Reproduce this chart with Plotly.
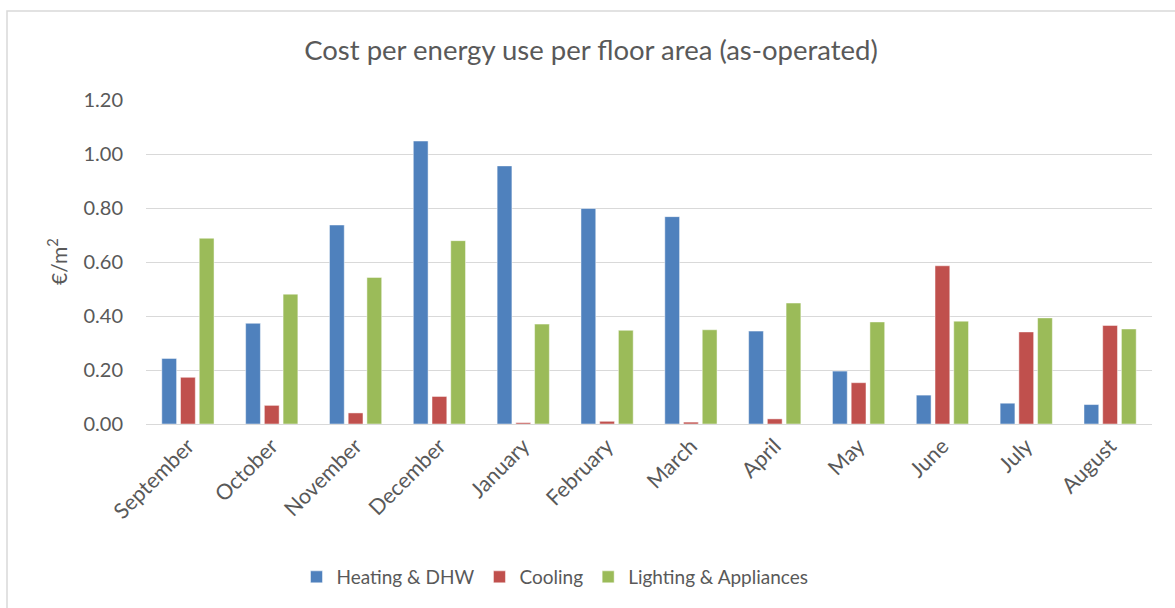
import plotly.graph_objects as go

months = ["September", "October", "November", "December", "January", "February",
          "March", "April", "May", "June", "July", "August"]
heating = [0.243, 0.373, 0.737, 1.048, 0.956, 0.798, 0.768, 0.344, 0.196, 0.107, 0.077, 0.072]
cooling = [0.173, 0.069, 0.041, 0.102, 0.005, 0.010, 0.007, 0.019, 0.153, 0.586, 0.341, 0.365]
lighting = [0.688, 0.481, 0.543, 0.679, 0.370, 0.347, 0.349, 0.448, 0.378, 0.381, 0.393, 0.352]
y_ticks = [0.0, 0.2, 0.4, 0.6, 0.8, 1.0, 1.2]

series = [
    ("Heating & DHW", heating, "#4F81BD"),
    ("Cooling", cooling, "#C0504D"),
    ("Lighting & Appliances", lighting, "#9BBB59"),
]

FONT = "Lato, 'Open Sans', sans-serif"
TXT = "#595959"

fig = go.Figure()
for name, vals, col in series:
    fig.add_trace(go.Bar(
        x=months, y=vals, name=name,
        marker=dict(color=col, line=dict(color="rgba(255,255,255,0.6)", width=0.8)),
    ))

L, R, T, B = 146, 23, 100, 184
W, H = 1175, 608
pw, ph = W - L - R, H - T - B

fig.update_layout(
    width=W, height=H,
    margin=dict(l=L, r=R, t=T, b=B, pad=0),
    paper_bgcolor="white", plot_bgcolor="white",
    barmode="group", bargap=0.33, bargroupgap=0.21,
    font=dict(family=FONT, color=TXT, size=19),
    title=dict(text="Cost per energy use per floor area (as-operated)",
               x=591 / W, xanchor="center", y=1 - 50 / H, yanchor="middle",
               font=dict(size=27.5, color=TXT, family=FONT)),
    legend=dict(orientation="h", x=(555 - L) / pw, xanchor="center",
                y=(H - B - 577) / ph, yanchor="middle",
                font=dict(size=19, color=TXT, family=FONT),
                itemwidth=30, traceorder="normal"),
    xaxis=dict(tickangle=-45, showgrid=False, showline=True, linecolor="#d9d9d9",
               linewidth=1, ticks="", tickfont=dict(size=21.5, color=TXT)),
    yaxis=dict(range=[0, 1.2], tickvals=y_ticks, tickformat=".2f",
               showgrid=True, gridcolor="#d9d9d9", gridwidth=1,
               zeroline=False, showline=False, ticks="",
               ticklabelstandoff=22, tickfont=dict(size=20, color=TXT)),
    annotations=[dict(text="€/m<sup>2</sup>", textangle=-90, showarrow=False,
                      xref="paper", yref="paper", x=(57 - L) / pw, y=0.5,
                      xanchor="center", yanchor="middle",
                      font=dict(size=21, color=TXT, family=FONT))],
    shapes=[dict(type="rect", xref="paper", yref="paper",
                 x0=(7 - L) / pw, x1=(1190 - L) / pw,
                 y0=(H - B - 620) / ph, y1=(H - B - 11) / ph,
                 line=dict(color="#d9d9d9", width=1.5), fillcolor="rgba(0,0,0,0)",
                 layer="below")],
)

fig.write_html("out.html", config={"displayModeBar": False},
               post_script="document.body.style.margin='0px';")
